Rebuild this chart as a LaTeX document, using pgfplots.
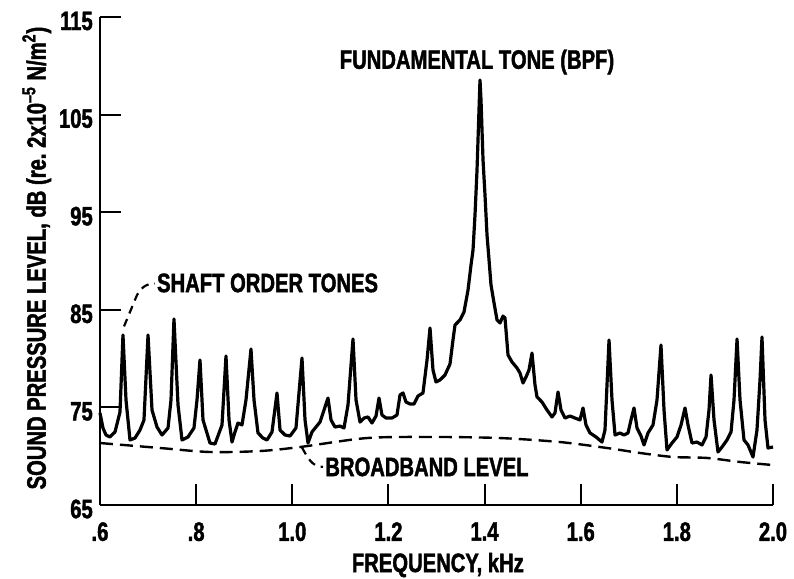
\documentclass[border=0pt]{standalone}
\usepackage{pgfplots}
\pgfplotsset{compat=1.18}
\usepackage{fontspec}
\setmainfont{Liberation Sans}[FakeStretch=0.76, BoldFeatures={FakeBold=1.6}]
\begin{document}
\bfseries\fontsize{13.3}{16}\selectfont
\begin{tikzpicture}
\begin{axis}[
  at={(0,0)}, anchor=south west,
  scale only axis, width=336.5pt, height=244pt,
  xmin=0.6, xmax=2.0, ymin=65, ymax=115,
  axis x line=bottom, axis y line=left,
  axis line style={-, line width=1pt},
  tick align=inside, major tick length=10.5pt,
  tick style={line width=1pt, black},
  xtick={0.6,0.8,1.0,1.2,1.4,1.6,1.8,2.0},
  xticklabels={.6,.8,1.0,1.2,1.4,1.6,1.8,2.0},
  ytick={65,75,85,95,105,115},
  yticklabels={65,75,85,95,105,115},
  /pgf/number format/assume math mode=true,
  xticklabel style={yshift=-4pt},
  yticklabel style={xshift=1pt, yshift=-2pt},
  xlabel={FREQUENCY, kHz},
  ylabel={SOUND PRESSURE LEVEL, dB (re.\ 2x10\textsuperscript{--5} N/m\textsuperscript{2})},
  xlabel style={at={(axis description cs:0.502,-0.123)}, anchor=center},
  ylabel style={at={(axis description cs:-0.094,0.506)}, anchor=center},
  clip=false,
]
\addplot[black, line width=1.6pt, line join=round] coordinates {
(0.6000,74.43) (0.6062,72.89) (0.6125,72.17) (0.6208,71.97) (0.6312,72.48) (0.6416,74.53)
(0.6478,82.42) (0.6541,75.76) (0.6624,71.66) (0.6728,71.86) (0.6832,72.68) (0.6915,73.71)
(0.6999,82.42) (0.7082,74.73) (0.7186,72.99) (0.7290,72.17) (0.7415,72.89) (0.7477,75.76)
(0.7539,84.06) (0.7623,75.25) (0.7706,71.66) (0.7831,71.97) (0.7955,72.89) (0.8018,75.76)
(0.8080,79.86) (0.8143,73.71) (0.8288,71.35) (0.8392,71.25) (0.8538,73.20) (0.8621,80.27)
(0.8684,73.71) (0.8746,71.45) (0.8808,72.48) (0.8871,73.40) (0.8954,73.20) (0.9037,75.76)
(0.9141,80.98) (0.9204,75.76) (0.9287,72.38) (0.9391,71.86) (0.9474,71.66) (0.9578,72.48)
(0.9682,76.48) (0.9745,72.68) (0.9849,72.17) (0.9953,72.07) (1.0077,72.89) (1.0202,80.06)
(1.0265,73.71) (1.0327,71.35) (1.0410,72.48) (1.0493,72.99) (1.0577,73.50) (1.0660,74.73)
(1.0743,75.96) (1.0806,73.71) (1.0889,72.99) (1.0993,73.09) (1.1076,72.89) (1.1159,75.25)
(1.1263,82.01) (1.1326,75.76) (1.1409,73.50) (1.1492,73.91) (1.1575,74.02) (1.1658,73.40)
(1.1742,74.12) (1.1804,75.96) (1.1866,74.22) (1.1950,73.91) (1.2074,73.91) (1.2178,74.22)
(1.2241,76.27) (1.2303,76.48) (1.2366,75.55) (1.2449,75.35) (1.2532,75.35) (1.2615,76.17)
(1.2719,76.48) (1.2803,79.86) (1.2865,83.14) (1.2927,78.83) (1.2990,77.60) (1.3073,77.81)
(1.3177,78.32) (1.3281,79.45) (1.3343,81.91) (1.3385,83.44) (1.3489,83.96) (1.3572,84.77)
(1.3656,87.03) (1.3718,89.59) (1.3760,91.13) (1.3801,94.71) (1.3843,99.32) (1.3884,105.47)
(1.3905,108.55) (1.3926,106.50) (1.3968,100.35) (1.4009,96.76) (1.4051,92.66) (1.4093,90.10)
(1.4134,87.54) (1.4197,85.70) (1.4259,83.96) (1.4321,83.65) (1.4384,84.36) (1.4425,84.16)
(1.4488,80.37) (1.4571,79.65) (1.4675,79.04) (1.4737,78.52) (1.4800,77.50) (1.4862,78.11)
(1.4924,78.83) (1.4987,80.57) (1.5049,77.30) (1.5091,76.07) (1.5195,75.55) (1.5299,74.73)
(1.5403,74.02) (1.5465,74.43) (1.5528,76.58) (1.5590,74.73) (1.5673,73.91) (1.5777,74.12)
(1.5881,73.91) (1.5985,73.71) (1.6048,74.94) (1.6110,73.20) (1.6193,72.38) (1.6318,71.97)
(1.6443,71.45) (1.6505,72.68) (1.6589,81.91) (1.6651,75.76) (1.6714,72.17) (1.6818,72.38)
(1.6901,72.17) (1.6984,72.38) (1.7046,73.71) (1.7109,74.94) (1.7171,72.89) (1.7254,72.07)
(1.7317,71.15) (1.7400,72.38) (1.7504,73.20) (1.7587,75.76) (1.7670,81.39) (1.7733,74.73)
(1.7795,70.64) (1.7899,71.35) (1.8003,71.97) (1.8087,73.20) (1.8170,74.94) (1.8232,73.20)
(1.8315,71.35) (1.8419,71.45) (1.8523,71.15) (1.8607,71.97) (1.8669,74.73) (1.8711,78.32)
(1.8773,73.71) (1.8856,70.43) (1.8939,70.94) (1.9043,71.66) (1.9127,72.48) (1.9189,75.76)
(1.9252,82.01) (1.9314,75.76) (1.9397,71.66) (1.9480,71.15) (1.9584,69.92) (1.9667,72.68)
(1.9730,77.81) (1.9771,82.21) (1.9834,73.71) (1.9896,70.84) (2.0000,70.94)
};
\addplot[black, line width=1.2pt, dash pattern=on 6.5pt off 3.5pt, smooth] coordinates {
(0.600,71.35) (0.7248,70.84) (0.8288,70.43) (0.9329,70.53) (1.0160,70.94) (1.1554,71.86)
(1.2927,71.97) (1.4321,71.86) (1.5569,71.45) (1.6547,70.84) (1.7234,70.33) (1.7920,69.92)
(1.8627,69.82) (1.9314,69.41) (1.9979,69.10)
};
\draw[black, line width=1.1pt, dash pattern=on 4pt off 3pt]
  (axis cs:0.650,83.3) -- (axis cs:0.676,86.4) to[out=65,in=180] (axis cs:0.714,87.7);
\node[anchor=west, inner sep=0pt] at (axis cs:0.718,87.75) {SHAFT ORDER TONES};
\draw[black, line width=1.1pt, dash pattern=on 4pt off 3pt]
  (axis cs:1.020,70.9) to[out=-60,in=180] (axis cs:1.064,68.9);
\node[anchor=west, inner sep=0pt] at (axis cs:1.068,68.9) {BROADBAND LEVEL};
\node[anchor=center, inner sep=0pt] at (axis cs:1.3843,110.4) {FUNDAMENTAL TONE (BPF)};
\end{axis}
\pgfresetboundingbox
\path (-50pt,-37pt) rectangle (347pt,252.5pt);
\end{tikzpicture}
\end{document}
